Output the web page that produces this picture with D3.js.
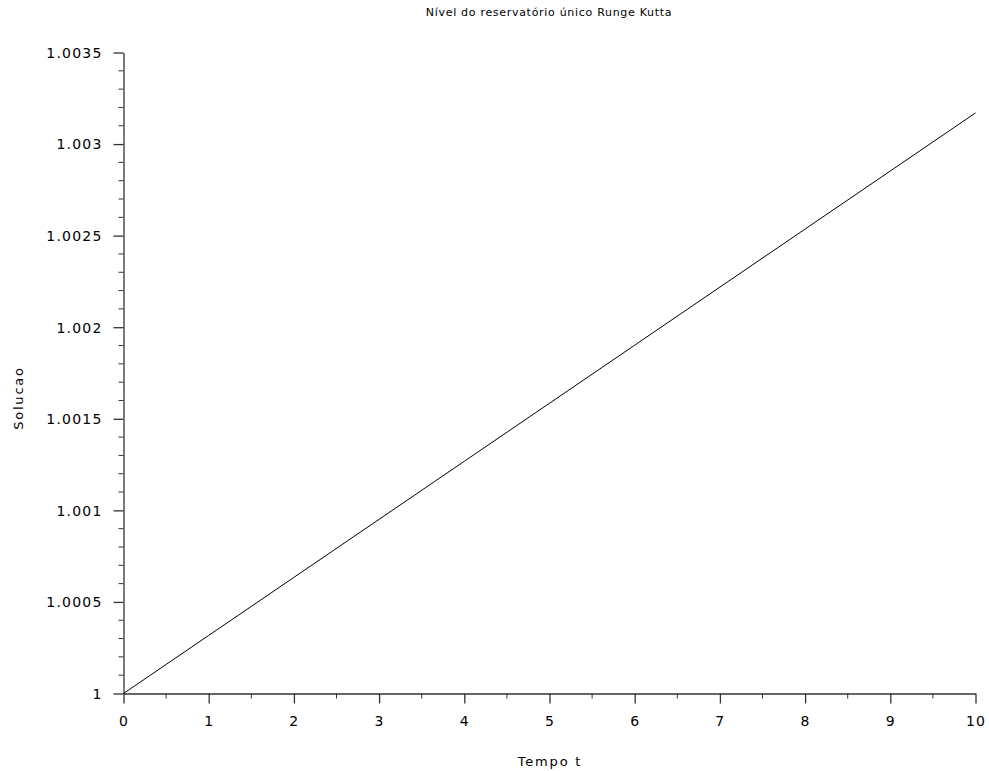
<!DOCTYPE html>
<html>
<head>
<meta charset="utf-8">
<script src="https://cdn.jsdelivr.net/npm/d3@7"></script>
<style>
  body { margin: 0; background: #fff; }
  svg { display: block; }
  text { font-family: "DejaVu Sans", sans-serif; fill: #000; }
</style>
</head>
<body>
<div class="graph"></div>
<script>
// data
let tempo = [0, 1, 2, 3, 4, 5, 6, 7, 8, 9, 10];
let solucao = [1, 1.000317, 1.000634, 1.000951, 1.001268, 1.001585,
  1.001902, 1.002219, 1.002536, 1.002853, 1.00317];
let xTicks = [0, 1, 2, 3, 4, 5, 6, 7, 8, 9, 10];
let yTicks = [1, 1.0005, 1.001, 1.0015, 1.002, 1.0025, 1.003, 1.0035];
let yLabels = ["1", "1.0005", "1.001", "1.0015", "1.002", "1.0025", "1.003", "1.0035"];

let w = 989;
let h = 771;

let svg = d3.select(".graph").append("svg")
  .attr("width", w)
  .attr("height", h);

let xScale = d3.scaleLinear().domain([0, 10]).range([123.5, 975.5]);
let yScale = d3.scaleLinear().domain([1, 1.0035]).range([693.5, 52.5]);

// minor ticks
let xMinor = d3.range(0, 10, 0.5).filter(v => v % 1 != 0);
let yMinor = d3.range(0, 35).map(i => 1 + i * 0.0001).filter((v, i) => i % 5 != 0);

let axisColor = "#333";

svg.append("g").selectAll("line").data(xMinor).enter().append("line")
  .attr("x1", d => xScale(d)).attr("x2", d => xScale(d))
  .attr("y1", yScale(1)).attr("y2", yScale(1) + 5)
  .attr("stroke", axisColor);
svg.append("g").selectAll("line").data(yMinor).enter().append("line")
  .attr("y1", d => yScale(d)).attr("y2", d => yScale(d))
  .attr("x1", xScale(0)).attr("x2", xScale(0) - 5)
  .attr("stroke", axisColor);

let xAxis = d3.axisBottom(xScale)
  .tickValues(xTicks)
  .tickSizeInner(10)
  .tickSizeOuter(0)
  .tickPadding(13)
  .tickFormat(d3.format("d"));

let yAxis = d3.axisLeft(yScale)
  .tickValues(yTicks)
  .tickSizeInner(10)
  .tickSizeOuter(0)
  .tickPadding(11)
  .tickFormat((d, i) => yLabels[i]);

let gx = svg.append("g")
  .attr("transform", "translate(0," + yScale(1) + ")")
  .call(xAxis);
let gy = svg.append("g")
  .attr("transform", "translate(" + xScale(0) + ",0)")
  .call(yAxis);

[gx, gy].forEach(g => {
  g.select(".domain").attr("stroke", axisColor).attr("stroke-width", 1.3);
  g.selectAll(".tick line").attr("stroke", axisColor).attr("stroke-width", 1.3);
  g.selectAll(".tick text")
    .style("font-family", "DejaVu Sans")
    .style("font-size", "14px")
    .style("letter-spacing", "1.2px")
    .attr("fill", "#000");
});
gy.selectAll(".tick text").attr("dy", "0.35em");

// solution line
let line = d3.line()
  .x((d, i) => xScale(tempo[i]))
  .y(d => yScale(d));

svg.append("path")
  .datum(solucao)
  .attr("d", line)
  .attr("fill", "none")
  .attr("stroke", "#000")
  .attr("stroke-width", 1);

// title and axis labels
svg.append("text")
  .attr("x", 549)
  .attr("y", 16)
  .attr("text-anchor", "middle")
  .style("font-size", "11px")
  .style("letter-spacing", "0.7px")
  .text("Nível do reservatório único Runge Kutta");

svg.append("text")
  .attr("x", 550)
  .attr("y", 766)
  .attr("text-anchor", "middle")
  .style("font-size", "13px")
  .style("letter-spacing", "1.8px")
  .text("Tempo t");

svg.append("text")
  .attr("transform", "translate(23,398) rotate(-90)")
  .attr("text-anchor", "middle")
  .style("font-size", "13px")
  .style("letter-spacing", "1.8px")
  .text("Solucao");
</script>
</body>
</html>
